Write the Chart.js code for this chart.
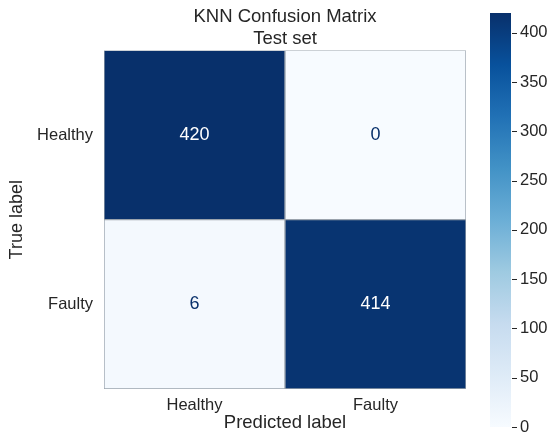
<!DOCTYPE html>
<html>
<head>
<meta charset="utf-8">
<title>KNN Confusion Matrix</title>
<script src="https://cdn.jsdelivr.net/npm/chart.js@4.4.1/dist/chart.umd.min.js"></script>
<style>
  html, body { margin: 0; padding: 0; background: #ffffff; overflow: hidden; }
  #wrap { position: relative; width: 551px; height: 435px; }
  #matrix { position: absolute; left: 0; top: 0; }
  #cbar { position: absolute; left: 460px; top: 0; }
</style>
</head>
<body>
<div id="wrap">
  <canvas id="matrix" width="551" height="435"></canvas>
  <canvas id="cbar" width="91" height="435"></canvas>
</div>
<script>
// Class names along both axes
const trueLabels = ['Healthy', 'Faulty'];
const predLabels = ['Healthy', 'Faulty'];

// Confusion counts, one row per true class
const rowHealthy = [420, 0];
const rowFaulty = [6, 414];

// Colour scale range and colorbar ticks
const scaleMin = 0;
const scaleMax = 420;
const cbarStep = 50;

const rows = [rowHealthy, rowFaulty];

const FONT = "'Liberation Sans', Arial, Helvetica, sans-serif";
const TEXT = '#262626';

// Matplotlib "Blues" colormap anchors
const blues = ['#f7fbff', '#deebf7', '#c6dbef', '#9ecae1', '#6baed6',
               '#4292c6', '#2171b5', '#08519c', '#08306b'];

function hexToRgb(h) {
  const n = parseInt(h.slice(1), 16);
  return [(n >> 16) & 255, (n >> 8) & 255, n & 255];
}
function cmap(t) {
  t = Math.max(0, Math.min(1, t));
  const pos = t * (blues.length - 1);
  const i = Math.min(Math.floor(pos), blues.length - 2);
  const f = pos - i;
  const a = hexToRgb(blues[i]), b = hexToRgb(blues[i + 1]);
  const c = a.map((v, k) => Math.round(v + (b[k] - v) * f));
  return `rgb(${c[0]},${c[1]},${c[2]})`;
}
const norm = v => (v - scaleMin) / (scaleMax - scaleMin);

// Each true-class row is a stack of unit cells across the predicted classes
const datasets = rows.map((row, r) => ({
  label: trueLabels[r],
  data: predLabels.map(() => 1),
  counts: row,
  backgroundColor: row.map(v => cmap(norm(v))),
  borderColor: '#9aa3ad',
  borderWidth: 1,
  borderSkipped: false,
  barPercentage: 1,
  categoryPercentage: 1
}));

// Writes each count in the middle of its cell
const cellText = {
  id: 'cellText',
  afterDatasetsDraw(chart) {
    const ctx = chart.ctx;
    const mid = (scaleMin + scaleMax) / 2;
    ctx.save();
    ctx.font = `18px ${FONT}`;
    ctx.textAlign = 'center';
    ctx.textBaseline = 'middle';
    chart.data.datasets.forEach((ds, di) => {
      const meta = chart.getDatasetMeta(di);
      meta.data.forEach((el, j) => {
        const v = ds.counts[j];
        const p = el.getCenterPoint();
        ctx.fillStyle = v > mid ? '#ffffff' : cmap(1);
        ctx.fillText(String(v), p.x, p.y);
      });
    });
    ctx.restore();
  }
};

new Chart(document.getElementById('matrix'), {
  type: 'bar',
  data: { labels: predLabels, datasets },
  plugins: [cellText],
  options: {
    responsive: false,
    animation: false,
    layout: { padding: { left: 0, right: 85, top: 0, bottom: 0 } },
    plugins: {
      legend: { display: false },
      tooltip: { enabled: false },
      title: {
        display: true,
        fullSize: false,
        text: ['KNN Confusion Matrix', 'Test set'],
        color: TEXT,
        font: { family: FONT, size: 18.5, weight: 'normal', lineHeight: 1.2 },
        padding: { top: 6, bottom: 0 }
      }
    },
    scales: {
      x: {
        stacked: true,
        grid: { display: false, drawTicks: false },
        border: { display: false },
        ticks: { color: TEXT, font: { family: FONT, size: 16.5 }, padding: 7, maxRotation: 0 },
        title: {
          display: true,
          text: 'Predicted label',
          color: TEXT,
          font: { family: FONT, size: 18.5 },
          padding: { top: 0, bottom: 1 }
        },
        afterFit(scale) { scale.height = 46; }
      },
      y: {
        stacked: true,
        reverse: true,
        min: 0,
        max: trueLabels.length,
        grid: { display: false, drawTicks: false },
        border: { display: false },
        afterBuildTicks(scale) {
          scale.ticks = trueLabels.map((_, i) => ({ value: i + 0.5 }));
        },
        ticks: {
          color: TEXT,
          font: { family: FONT, size: 16.5 },
          padding: 11,
          callback: v => trueLabels[Math.floor(v)]
        },
        title: {
          display: true,
          text: 'True label',
          color: TEXT,
          font: { family: FONT, size: 18 },
          padding: { top: 6, bottom: 0 }
        },
        afterFit(scale) { scale.width = 104; }
      }
    }
  }
});

// Colorbar: a single floating bar spanning the colour range, filled with the colormap
function cbarFill(context) {
  const { chart } = context;
  if (!chart.chartArea) return cmap(0.5);
  const y = chart.scales.y;
  const g = chart.ctx.createLinearGradient(0, y.getPixelForValue(scaleMin), 0, y.getPixelForValue(scaleMax));
  blues.forEach((c, i) => g.addColorStop(i / (blues.length - 1), c));
  return g;
}

// Short outward tick marks beside the colorbar
const cbarTickMarks = {
  id: 'cbarTickMarks',
  afterDraw(chart) {
    const { ctx, chartArea } = chart;
    const y = chart.scales.y;
    ctx.save();
    ctx.strokeStyle = TEXT;
    ctx.lineWidth = 1;
    y.ticks.forEach(t => {
      const py = Math.round(y.getPixelForValue(t.value)) + 0.5;
      ctx.beginPath();
      ctx.moveTo(chartArea.right + 1, py);
      ctx.lineTo(chartArea.right + 6, py);
      ctx.stroke();
    });
    ctx.restore();
  }
};

new Chart(document.getElementById('cbar'), {
  type: 'bar',
  data: {
    labels: [''],
    datasets: [{
      data: [[scaleMin, scaleMax]],
      backgroundColor: cbarFill,
      borderWidth: 0,
      barPercentage: 1,
      categoryPercentage: 1
    }]
  },
  plugins: [cbarTickMarks],
  options: {
    responsive: false,
    animation: false,
    layout: { padding: { left: 30, right: 0, top: 13, bottom: 8 } },
    plugins: { legend: { display: false }, tooltip: { enabled: false } },
    scales: {
      x: { display: false },
      y: {
        position: 'right',
        min: scaleMin,
        max: scaleMax,
        grid: { display: false, drawTicks: false },
        border: { display: false },
        afterBuildTicks(scale) {
          scale.ticks = scale.ticks.filter(t => t.value % cbarStep === 0);
        },
        ticks: { stepSize: cbarStep, color: TEXT, font: { family: FONT, size: 16.5 }, padding: 9 },
        afterFit(scale) {
          // let the end labels overhang instead of shrinking the bar
          scale.width = 40;
          scale.paddingTop = 0;
          scale.paddingBottom = 0;
        }
      }
    }
  }
});
</script>
</body>
</html>
